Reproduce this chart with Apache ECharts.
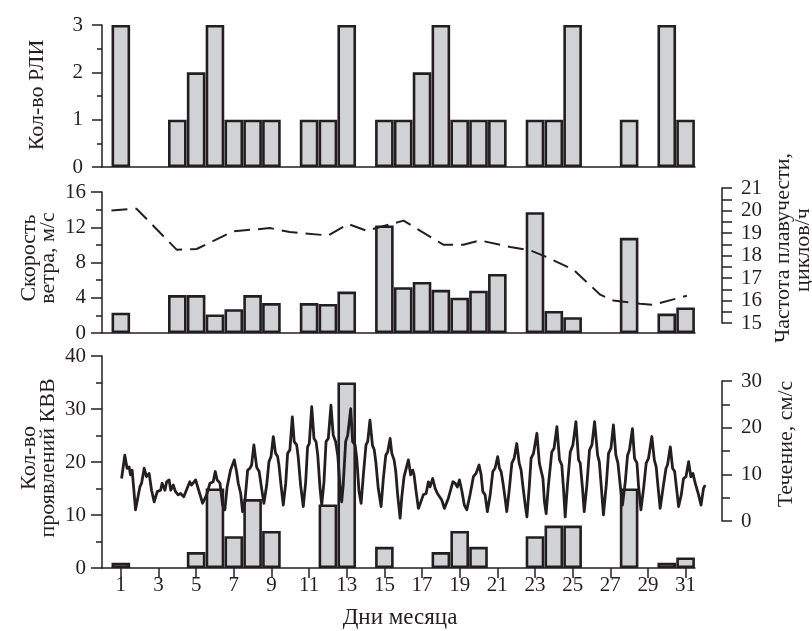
<!DOCTYPE html>
<html>
<head>
<meta charset="utf-8">
<script src="https://cdn.jsdelivr.net/npm/echarts@6/dist/echarts.min.js"></script>
<style>
  html, body { margin: 0; padding: 0; background: #fff; }
  #chart { width: 812px; height: 631px; }
</style>
</head>
<body>
<div id="chart"></div>
<script>
// days of the month, 1..31
const days = [1,2,3,4,5,6,7,8,9,10,11,12,13,14,15,16,17,18,19,20,21,22,23,24,25,26,27,28,29,30,31];
const dayTicks = [1,3,5,7,9,11,13,15,17,19,21,23,25,27,29,31];

// panel 1 - number of radar images
const rliCount = [3,0,0,1,2,3,1,1,1,0,1,1,3,0,1,1,2,3,1,1,1,0,1,1,3,0,0,1,0,3,1];

// panel 2 - wind speed, m/s (bars)
const windSpeed = [2.3,0,0,4.3,4.3,2.1,2.7,4.3,3.4,0,3.4,3.3,4.7,0,12.2,5.2,5.8,4.9,4.0,4.8,6.7,0,13.7,2.5,1.8,0,0,10.8,0,2.2,2.9];

// panel 2 - buoyancy frequency, cycles/h (dashed)
const buoyDays = [0.5,1.83,3.96,5.02,6.96,8.91,9.97,12.01,13.07,14.05,16.0,18.11,19.18,20.06,21.67,22.73,23.6,25.02,26.44,27.14,28.56,29.27,31.04];
const buoyFreq = [20.0,20.08,18.26,18.29,19.07,19.22,19.04,18.89,19.4,19.1,19.55,18.48,18.48,18.67,18.38,18.23,17.93,17.37,16.26,16.0,15.86,15.81,16.21];

// panel 3 - number of internal wave events
const kvvCount = [1,0,0,0,3,15,6,13,7,0,0,12,35,0,4,0,0,3,7,4,0,0,6,8,8,0,0,15,0,1,2];

// panel 3 - current speed, cm/s
const curDays = [1.04,1.21,1.33,1.44,1.51,1.60,1.78,2.01,2.10,2.24,2.36,2.50,2.63,2.77,2.93,3.11,3.19,3.34,3.43,3.56,3.65,3.78,3.90,4.04,4.17,4.34,4.52,4.66,4.75,4.97,5.10,5.34,5.55,5.73,5.90,6.01,6.11,6.26,6.40,6.52,6.64,6.82,7.02,7.14,7.23,7.36,7.46,7.58,7.73,7.85,7.94,8.06,8.21,8.34,8.47,8.59,8.74,8.86,8.97,9.09,9.21,9.32,9.39,9.50,9.62,9.75,9.85,9.97,10.10,10.20,10.33,10.41,10.54,10.68,10.81,10.91,11.00,11.13,11.25,11.36,11.45,11.57,11.66,11.78,11.89,12.01,12.15,12.27,12.40,12.51,12.63,12.72,12.80,12.93,13.04,13.20,13.30,13.43,13.52,13.64,13.75,13.87,14.01,14.10,14.22,14.35,14.45,14.53,14.66,14.81,14.93,15.06,15.16,15.29,15.38,15.50,15.59,15.69,15.82,15.91,16.03,16.13,16.26,16.38,16.49,16.56,16.67,16.79,16.92,17.05,17.20,17.32,17.41,17.55,17.68,17.80,17.90,18.03,18.17,18.38,18.62,18.74,18.86,18.97,19.09,19.23,19.36,19.53,19.71,19.85,20.01,20.12,20.21,20.33,20.45,20.60,20.74,20.86,21.00,21.09,21.18,21.27,21.39,21.48,21.61,21.75,21.87,22.01,22.14,22.24,22.33,22.46,22.55,22.68,22.77,22.90,23.08,23.21,23.30,23.40,23.48,23.57,23.69,23.87,23.99,24.14,24.28,24.40,24.49,24.58,24.70,24.85,24.99,25.15,25.29,25.38,25.50,25.59,25.73,25.87,26.00,26.14,26.30,26.39,26.49,26.61,26.76,26.88,27.01,27.14,27.27,27.38,27.50,27.62,27.77,27.89,27.99,28.15,28.26,28.39,28.47,28.60,28.74,28.88,29.00,29.18,29.31,29.41,29.50,29.62,29.77,29.93,30.01,30.16,30.28,30.39,30.47,30.60,30.74,30.86,30.99,31.13,31.25,31.36,31.48,31.57,31.66,31.79,31.92,32.01];
const curSpeed = [9.1,14.1,11.3,11.6,9.9,10.9,2.4,7.3,8.1,11.3,9.5,10.2,6.6,4.1,6.3,6.6,8.1,6.6,8.4,8.8,6.6,7.7,6.3,5.6,5.9,5.2,7.0,8.4,7.7,8.8,7.0,3.8,5.6,8.1,8.4,10.6,8.8,8.1,3.4,2.4,7.3,10.9,13.1,10.6,8.1,5.9,2.0,4.1,10.9,11.3,12.0,16.3,11.5,10.6,7.0,3.8,7.7,12.7,13.8,18.1,14.5,13.8,12.0,7.7,3.4,8.1,14.5,15.2,22.3,17.0,16.3,13.8,7.7,3.1,8.4,15.9,16.6,24.5,17.7,17.0,14.1,7.0,3.4,8.4,17.0,17.7,24.8,18.4,17.0,14.1,7.7,4.1,7.7,17.0,18.4,24.1,17.0,16.3,13.4,6.3,3.8,9.9,16.3,17.0,21.6,16.3,15.2,12.7,7.0,3.1,9.1,14.1,14.8,17.7,14.5,13.1,10.6,5.6,0.6,5.2,9.5,9.9,13.1,9.9,10.9,9.9,6.3,2.7,4.1,5.6,5.9,8.4,7.3,9.1,7.0,5.9,6.3,4.5,2.7,4.9,8.4,8.1,7.3,8.8,6.6,3.4,2.4,5.6,9.5,10.2,12.0,9.9,6.3,5.6,2.0,5.6,10.6,11.3,13.8,11.3,10.6,8.4,4.9,2.0,6.6,12.4,13.4,16.6,12.4,10.9,7.7,3.4,0.9,7.7,13.4,14.5,18.8,12.4,12.0,9.1,4.1,1.6,7.7,14.8,15.6,20.2,13.1,12.0,7.0,0.9,7.7,14.8,16.3,21.3,13.1,12.4,7.0,2.0,7.7,15.2,16.3,21.3,14.1,12.7,7.7,1.3,7.7,14.5,15.6,20.6,14.1,12.4,7.7,3.4,8.4,14.1,15.2,19.8,13.4,12.4,7.7,2.4,7.0,12.4,13.4,18.1,13.1,11.6,7.7,2.7,7.0,11.3,12.0,15.9,11.3,10.6,7.7,3.1,5.6,9.1,9.5,12.7,9.5,10.2,8.1,8.4,5.6,3.4,7.0,7.7];

const ink = '#231f20';
const barFill = '#d1d2d4';
const serif = '"Liberation Serif", "DejaVu Serif", serif';
const tickFont = 21;
const nameFont = 22;

function barData(vals) {
  const out = [];
  days.forEach((d, i) => { if (vals[i] > 0) out.push([d, vals[i]]); });
  return out;
}
function pairs(xs, ys) { return xs.map((x, i) => [x, ys[i]]); }

const chart = echarts.init(document.getElementById('chart'));

// bar grids end at day 31.5; line grids are stretched to day 32 with the same scale
const gl = 102, gr = 117, grWide = 107;
const grids = [
  { left: gl, right: gr, top: 25, height: 142 },
  { left: gl, right: gr, top: 192, height: 141 },
  { left: gl, right: grWide, top: 188, height: 135 },
  { left: gl, right: gr, top: 356, height: 212 },
  { left: gl, right: grWide, top: 381, height: 140 }
];

function xAx(i, showLine, max) {
  return {
    type: 'value', gridIndex: i, min: 0, max: max,
    show: showLine,
    axisLine: { show: true, onZero: false, lineStyle: { color: ink, width: 1.5 } },
    axisTick: { show: false }, axisLabel: { show: false },
    splitLine: { show: false }
  };
}
const xAxes = [xAx(0, true, 31.5), xAx(1, true, 31.5), xAx(2, false, 32), xAx(3, true, 31.5), xAx(4, false, 32)];
xAxes[3].axisTick = { show: true, customValues: dayTicks, length: 10, lineStyle: { color: ink, width: 1.5 } };
xAxes[3].axisLabel = { show: true, customValues: dayTicks, margin: 7, color: ink, fontSize: tickFont, fontFamily: serif };

function yAx(i, min, max, step, pos, opts) {
  opts = opts || {};
  return {
    type: 'value', gridIndex: i, min: min, max: max, interval: step,
    position: pos, offset: opts.offset || 0,
    axisLine: { show: true, onZero: false, lineStyle: { color: ink, width: 1.5 } },
    axisTick: { show: true, length: opts.tick || 11, lineStyle: { color: ink, width: 1.5 } },
    minorTick: { show: true, splitNumber: 2, length: opts.minor || 6, lineStyle: { color: ink, width: 1.5 } },
    axisLabel: { color: ink, fontSize: tickFont, fontFamily: serif, margin: opts.margin || 16 },
    splitLine: { show: false }, minorSplitLine: { show: false }
  };
}
const yAxes = [
  yAx(0, 0, 3, 1, 'left', { tick: 10, minor: 5, margin: 19 }),
  yAx(1, 0, 16, 4, 'left'),
  yAx(2, 15, 21, 1, 'right', { offset: 17, tick: 10, minor: 10, margin: 19 }),
  yAx(3, 0, 40, 10, 'left'),
  yAx(4, 0, 30, 10, 'right', { offset: 17, tick: 10, minor: 8, margin: 19 })
];

const barStyle = { color: barFill, borderColor: ink, borderWidth: 2.6 };
function bars(i, vals) {
  return {
    type: 'bar', xAxisIndex: i, yAxisIndex: i, data: barData(vals),
    barWidth: 18.6, itemStyle: barStyle, silent: true, z: 2
  };
}

function vText(txt, x, y) {
  return {
    type: 'text', x: x, y: y, rotation: Math.PI / 2,
    style: { text: txt, fill: ink, font: nameFont + 'px ' + serif,
             textAlign: 'center', textVerticalAlign: 'middle', align: 'center', verticalAlign: 'middle' }
  };
}

chart.setOption({
  animation: false,
  grid: grids,
  xAxis: xAxes,
  yAxis: yAxes,
  series: [
    bars(0, rliCount),
    bars(1, windSpeed),
    {
      type: 'line', xAxisIndex: 2, yAxisIndex: 2, data: pairs(buoyDays, buoyFreq),
      showSymbol: false, z: 5,
      lineStyle: { color: ink, width: 2, type: [16, 8] }
    },
    bars(3, kvvCount),
    {
      type: 'line', xAxisIndex: 4, yAxisIndex: 4, data: pairs(curDays, curSpeed),
      showSymbol: false, clip: false, z: 5,
      lineStyle: { color: ink, width: 2.8, join: 'round' }
    }
  ],
  graphic: [
    vText('Кол-во РЛИ', 37, 95),
    vText('Скорость', 29, 258),
    vText('ветра, м/с', 48, 258),
    vText('Кол-во', 29, 458),
    vText('проявлений КВВ', 48, 458),
    vText('Частота плавучести,', 783, 248),
    vText('циклов/ч', 803, 250),
    vText('Течение, см/с', 786, 444),
    { type: 'text', x: 400, y: 618,
      style: { text: 'Дни месяца', fill: ink, font: '23px ' + serif,
               textAlign: 'center', textVerticalAlign: 'middle', align: 'center', verticalAlign: 'middle' } }
  ]
});
</script>
</body>
</html>
